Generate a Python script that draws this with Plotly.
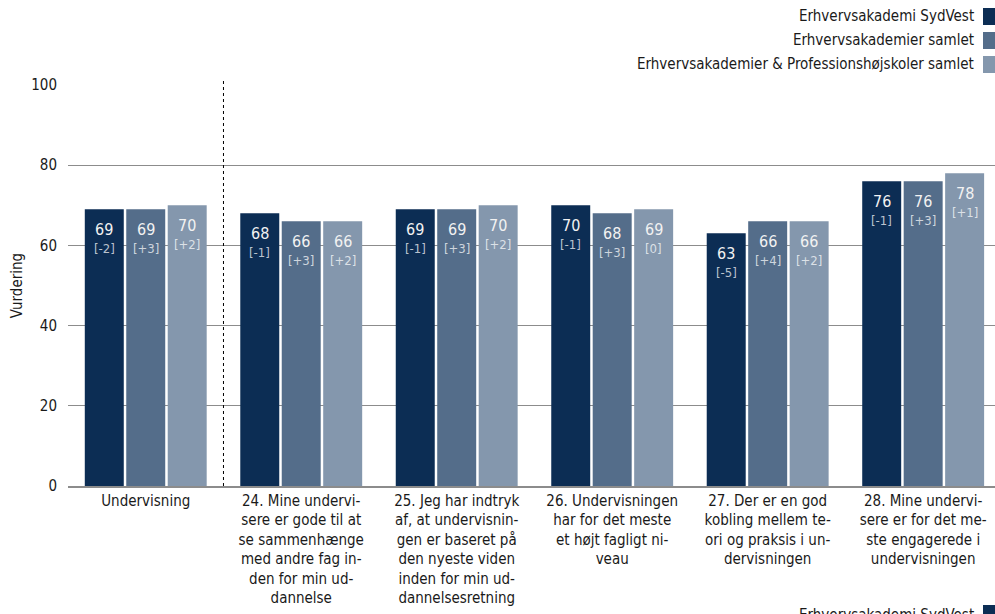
import plotly.graph_objects as go

categories = [
    "Undervisning",
    "24. Mine undervi-<br>sere er gode til at<br>se sammenhænge<br>med andre fag in-<br>den for min ud-<br>dannelse",
    "25. Jeg har indtryk<br>af, at undervisnin-<br>gen er baseret på<br>den nyeste viden<br>inden for min ud-<br>dannelsesretning",
    "26. Undervisningen<br>har for det meste<br>et højt fagligt ni-<br>veau",
    "27. Der er en god<br>kobling mellem te-<br>ori og praksis i un-<br>dervisningen",
    "28. Mine undervi-<br>sere er for det me-<br>ste engagerede i<br>undervisningen",
]
series_names = [
    "Erhvervsakademi SydVest",
    "Erhvervsakademier samlet",
    "Erhvervsakademier & Professionshøjskoler samlet",
]
values_sydvest = [69, 68, 69, 70, 63, 76]
values_eak = [69, 66, 69, 68, 66, 76]
values_all = [70, 66, 70, 69, 66, 78]
delta_sydvest = ["[-2]", "[-1]", "[-1]", "[-1]", "[-5]", "[-1]"]
delta_eak = ["[+3]", "[+3]", "[+3]", "[+3]", "[+4]", "[+3]"]
delta_all = ["[+2]", "[+2]", "[+2]", "[0]", "[+2]", "[+1]"]
y_ticks = [0, 20, 40, 60, 80, 100]

colors = ["#0c2d54", "#546d8a", "#8497ad"]
FONT = "Tahoma, 'DejaVu Sans Condensed', 'DejaVu Sans', sans-serif"

all_values = [values_sydvest, values_eak, values_all]
all_deltas = [delta_sydvest, delta_eak, delta_all]
x_idx = list(range(len(categories)))

fig = go.Figure()
for name, vals, col in zip(series_names, all_values, colors):
    fig.add_trace(go.Bar(x=x_idx, y=vals, name=name, marker_color=col,
                         marker_line_width=0, showlegend=False,
                         hoverinfo="y+name"))

bargap = 0.2
nser = len(series_names)
slot = (1 - bargap) / nser
annotations = []
for k, (vals, deltas) in enumerate(zip(all_values, all_deltas)):
    off = (k - (nser - 1) / 2) * slot
    for j, (v, d) in enumerate(zip(vals, deltas)):
        annotations.append(dict(x=j + off, y=v, xref="x", yref="y", text=str(v),
                                showarrow=False, yanchor="middle", yshift=-20,
                                font=dict(family=FONT, size=16, color="#f2f2f2")))
        annotations.append(dict(x=j + off, y=v, xref="x", yref="y", text=d,
                                showarrow=False, yanchor="middle", yshift=-39,
                                font=dict(family=FONT, size=13,
                                          color="rgba(255,255,255,0.72)")))

# legend (text right-aligned, swatch on the right)
W, H = 995, 614
ml, mr, mt, mb = 68, 0, 85, 128
pw, ph = W - ml - mr, H - mt - mb
def px_x(px):
    return (px - ml) / pw
def px_y(py):
    return (H - mb - py) / ph

shapes = []
legend_rows = [16, 40, 64]
for name, col, cy in zip(series_names, colors, legend_rows):
    annotations.append(dict(x=px_x(976), y=px_y(cy), xref="paper", yref="paper",
                            text=name, showarrow=False, xanchor="right",
                            yanchor="middle",
                            font=dict(family=FONT, size=15, color="#1a1a1a")))
    shapes.append(dict(type="rect", xref="paper", yref="paper",
                       x0=px_x(983), x1=px_x(995), y0=px_y(cy + 9),
                       y1=px_y(cy - 8), fillcolor=col, line_width=0))
# repeated (cut-off) legend row at the bottom, as in the reference
annotations.append(dict(x=px_x(976), y=px_y(615), xref="paper", yref="paper",
                        text=series_names[0], showarrow=False, xanchor="right",
                        yanchor="middle",
                        font=dict(family=FONT, size=15, color="#1a1a1a")))
shapes.append(dict(type="rect", xref="paper", yref="paper",
                   x0=px_x(983), x1=px_x(995), y0=px_y(622), y1=px_y(605),
                   fillcolor=colors[0], line_width=0))

# dotted separator between overall and items
shapes.append(dict(type="line", xref="x", yref="paper", x0=0.5, x1=0.5,
                   y0=0, y1=1.013, line=dict(color="#000000", width=1, dash="dot")))

fig.update_layout(
    width=W, height=H,
    margin=dict(l=ml, r=mr, t=mt, b=mb),
    paper_bgcolor="white", plot_bgcolor="white",
    barmode="group", bargap=bargap, bargroupgap=0.06,
    font=dict(family=FONT, size=15, color="#1a1a1a"),
    annotations=annotations, shapes=shapes,
    showlegend=False,
    xaxis=dict(tickmode="array", tickvals=x_idx, ticktext=categories,
               range=[-0.5, 5.462], showgrid=False, zeroline=False,
               showline=True, linecolor="#8c8c8c", linewidth=1.5,
               ticks="", tickfont=dict(family=FONT, size=15, color="#1a1a1a"),
               fixedrange=True),
    yaxis=dict(range=[0, 100], tickmode="array", tickvals=y_ticks,
               showgrid=True, gridcolor="#8c8c8c", gridwidth=1.3,
               zeroline=False, ticks="", ticklabelstandoff=10,
               tickfont=dict(family=FONT, size=15, color="#1a1a1a"),
               title=dict(text="Vurdering", standoff=4,
                          font=dict(family=FONT, size=15, color="#1a1a1a")),
               fixedrange=True),
)

fig.write_html("out.html", config={"displayModeBar": False},
               post_script="document.body.style.margin='0px';")
